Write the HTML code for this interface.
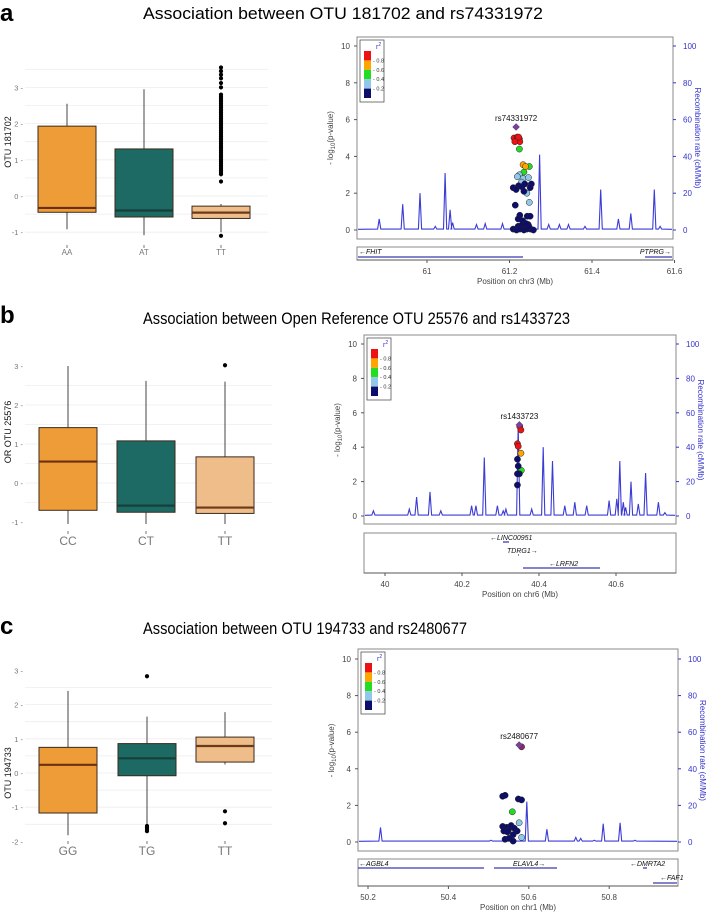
<!DOCTYPE html>
<html><head><meta charset="utf-8"><style>
html,body{margin:0;padding:0;background:#fff;}
svg{display:block;font-family:"Liberation Sans",sans-serif;}
</style></head><body>
<svg id="fig" width="709" height="913" viewBox="0 0 709 913" xmlns="http://www.w3.org/2000/svg">
<text x="0" y="21" font-size="24" font-weight="bold">a</text>
<text x="143" y="19" font-size="17" textLength="400" lengthAdjust="spacingAndGlyphs">Association between OTU 181702 and rs74331972</text>
<text x="0" y="323" font-size="24" font-weight="bold">b</text>
<text x="143" y="324" font-size="17" textLength="427" lengthAdjust="spacingAndGlyphs">Association between Open Reference OTU 25576 and rs1433723</text>
<text x="0" y="634" font-size="24" font-weight="bold">c</text>
<text x="143" y="634" font-size="17" textLength="324" lengthAdjust="spacingAndGlyphs">Association between OTU 194733 and rs2480677</text>
</svg>
<script>
// ---------- Box plot data ----------
const boxCatsA = ["AA","AT","TT"];
const boxStatsA = [[-0.92,-0.45,-0.33,1.93,2.55],[-1.08,-0.58,-0.40,1.30,2.95],[-1.0,-0.62,-0.46,-0.28,-0.22]];
const boxOutA = [[],[],[-1.1,0.4,0.6,0.65,0.7,0.75,0.8,0.85,0.9,0.95,1.0,1.05,1.1,1.15,1.2,1.25,1.3,1.35,1.4,1.45,1.5,1.55,1.6,1.65,1.7,1.75,1.8,1.85,1.9,1.95,2.0,2.05,2.1,2.15,2.2,2.25,2.3,2.35,2.4,2.45,2.5,2.55,2.6,2.65,2.7,2.75,2.8,3.0,3.12,3.25,3.35,3.45,3.55]];
const boxTicksA = [-1,0,1,2,3];
const boxCatsB = ["CC","CT","TT"];
const boxStatsB = [[-1.05,-0.70,0.55,1.42,3.0],[-1.05,-0.75,-0.58,1.08,2.62],[-1.05,-0.78,-0.63,0.67,2.6]];
const boxOutB = [[],[],[3.02]];
const boxTicksB = [-1,0,1,2,3];
const boxCatsC = ["GG","TG","TT"];
const boxStatsC = [[-1.82,-1.17,0.24,0.75,2.4],[-1.55,-0.08,0.43,0.86,1.65],[0.25,0.32,0.79,1.05,1.78]];
const boxOutC = [[],[2.83,-1.55,-1.6,-1.65,-1.7],[-1.12,-1.47]];
const boxTicksC = [-2,-1,0,1,2,3];

// ---------- Locus data ----------
const recPosA = [60.884,60.941,60.983,61.02,61.044,61.056,61.062,61.12,61.141,61.183,61.273,61.295,61.321,61.343,61.383,61.421,61.464,61.494,61.551,61.565];
const recRateA = [6,14,20,2,31,11,4,3,3.5,3.5,41,3,3,3,2,22,6,9,22,2];
const snpPosA = [61.211,61.217,61.224,61.219,61.225,61.213,61.222,61.224,61.235,61.248,61.233,61.239,61.224,61.233,61.246,61.229,61.242,61.248,61.219,61.209,61.222,61.230,61.237,61.253,61.250,61.235,61.216,61.214,61.225,61.243,61.250,61.232,61.221,61.229,61.238,61.245,61.209,61.217,61.225,61.235,61.242,61.251,61.258,61.247,61.221,61.240];
const snpLogPA = [5.0,4.85,4.95,5.05,4.8,4.8,5.05,4.4,3.15,3.45,3.55,3.45,3.0,2.8,2.85,2.6,2.0,1.5,2.9,2.3,2.4,2.35,2.5,2.5,2.3,2.1,2.2,1.35,0.8,0.75,0.75,0.5,0.2,0.25,0.15,0.3,0.05,0.0,0.05,0.0,0.05,0.05,0.0,0.2,0.6,0.35];
const snpR2A = [4,4,4,4,4,4,4,2,2,2,3,3,1,1,1,1,1,1,1,0,0,0,0,0,0,0,0,0,0,0,0,0,0,0,0,0,0,0,0,0,0,0,0,0,0,0];
const leadA = {name:"rs74331972", pos:61.216, logp:5.6};

const recPosB = [39.970,40.063,40.082,40.117,40.145,40.225,40.236,40.258,40.292,40.307,40.314,40.346,40.381,40.411,40.435,40.467,40.493,40.524,40.582,40.602,40.610,40.619,40.625,40.639,40.658,40.677,40.710,40.727];
const recRateB = [3,4,11,14,3,6,6,34,6,3,4,53,4,40,32,6,8,6,9,10,32,8,5,20,7,25,8,2];
const snpPosB = [40.350,40.353,40.344,40.346,40.353,40.352,40.354,40.344,40.346,40.349,40.344,40.344];
const snpLogPB = [5.2,5.0,4.2,4.05,3.65,2.6,2.65,3.3,2.9,2.45,2.45,1.8];
const snpR2B = [4,4,4,4,3,2,2,0,0,0,0,0];
const leadB = {name:"rs1433723", pos:40.349, logp:5.3};

const recPosC = [50.231,50.506,50.595,50.645,50.717,50.729,50.763,50.785,50.827,50.864];
const recRateC = [8,1,22,7,2.5,2,1,10,10.5,1];
const snpPosC = [50.582,50.535,50.541,50.574,50.582,50.535,50.545,50.556,50.571,50.538,50.549,50.561,50.541,50.551,50.561,50.547,50.564,50.559,50.576,50.582];
const snpLogPC = [5.2,2.5,2.55,2.35,2.3,0.85,0.8,0.9,0.6,0.6,0.65,0.4,0.15,0.2,0.05,0.55,0.75,1.65,1.05,0.25];
const snpR2C = [5,0,0,0,0,0,0,0,0,0,0,0,0,0,0,0,0,2,1,1];
const leadC = {name:"rs2480677", pos:50.576, logp:5.3};

const NS="http://www.w3.org/2000/svg";
const svg=document.getElementById("fig");
function mk(tag,attrs,parent){const e=document.createElementNS(NS,tag);for(const k in attrs)e.setAttribute(k,attrs[k]);(parent||svg).appendChild(e);return e;}

const fills=["#EE9C38","#1C6A63","#EFBD8A"];
const meds=["#6b3010","#173f3a","#6b3a18"];

function boxPlot(cfg,cats,stats,outs,ticks){
  const g=mk("g",{});
  
  
  const Y=v=>cfg.y0-v*cfg.ppu;
  for(let v=cfg.gmin;v<=cfg.gmax+1e-9;v+=0.5){
    const l=mk("line",{x1:cfg.left,x2:cfg.right,y1:Y(v),y2:Y(v),stroke:"#eeeeee","stroke-width":0.8},g);
    
    
  }
  ticks.forEach(t=>{
    const tx=mk("text",{x:23,y:Y(t)+3,"font-size":7.5,fill:"#777","text-anchor":"end"},g);
    tx.textContent=t+" -";
    
    
  });
  const yl=mk("text",{transform:`translate(${cfg.ylx},${cfg.ylc}) rotate(-90)`,"font-size":9,"text-anchor":"middle",fill:"#111"},g);
  yl.textContent=cfg.ylabel;
  
  
  cats.forEach((c,i)=>{
    const cx=cfg.centers[i],s=stats[i],hw=29;
    const w=mk("line",{x1:cx,x2:cx,y1:Y(s[0]),y2:Y(s[4]),stroke:"#444","stroke-width":1},g);
    
    
    const r=mk("rect",{x:cx-hw,y:Y(s[3]),width:hw*2,height:Y(s[1])-Y(s[3]),fill:fills[i],stroke:"#3a2a1a","stroke-width":1},g);
    
    
    const m=mk("line",{x1:cx-hw,x2:cx+hw,y1:Y(s[2]),y2:Y(s[2]),stroke:meds[i],"stroke-width":2.2},g);
    
    
    outs[i].forEach(v=>{
      const d=mk("circle",{cx:cx,cy:Y(v),r:2.1,fill:"#000"},g);
      
      
    });
    const tk=mk("line",{x1:cx,x2:cx,y1:cfg.catY-cfg.cfs-2,y2:cfg.catY-cfg.cfs+1,stroke:"#777"},g);
    
    
    const lb=mk("text",{x:cx,y:cfg.catY,"font-size":cfg.cfs,fill:"#777","text-anchor":"middle"},g);
    lb.textContent=c;
    
    
  });
}

boxPlot({name:"boxplot-a",y0:196,ppu:36.2,left:25,right:268,gmin:-1,gmax:3.5,ylx:11,ylc:142,ylabel:"OTU 181702",centers:[67,144,221],catY:255,cfs:8},boxCatsA,boxStatsA,boxOutA,boxTicksA);
boxPlot({name:"boxplot-b",y0:483,ppu:39,left:25,right:272,gmin:-0.5,gmax:2.5,ylx:11,ylc:432,ylabel:"OR OTU 25576",centers:[68,146,225],catY:545,cfs:12},boxCatsB,boxStatsB,boxOutB,boxTicksB);
boxPlot({name:"boxplot-c",y0:773,ppu:34.2,left:25,right:272,gmin:-1.5,gmax:2.5,ylx:11,ylc:773,ylabel:"OTU 194733",centers:[68,147,225],catY:855,cfs:12},boxCatsC,boxStatsC,boxOutC,boxTicksC);

const r2col=["#0d0d6b","#8fc8e8","#22dd22","#ffa500","#ee1111","#8a2a6a"];

function locus(cfg,recPos,recRate,snpPos,snpLogP,snpR2,lead){
  const g=mk("g",{});
  
  
  const X=p=>cfg.x0+(p-cfg.m0)*cfg.ppm;
  const Y=v=>cfg.y0-v*cfg.ppu;
  const YR=v=>cfg.y0-v/10*cfg.ppu;
  const fr=mk("rect",{x:cfg.left,y:cfg.top,width:cfg.right-cfg.left,height:cfg.bottom-cfg.top,fill:"none",stroke:"#888","stroke-width":1},g);
  
  
  [0,2,4,6,8,10].forEach(t=>{
    const a=mk("line",{x1:cfg.left-3,x2:cfg.left,y1:Y(t),y2:Y(t),stroke:"#555"},g);
    
    
    const tx=mk("text",{x:cfg.left-7,y:Y(t)+3,"font-size":8,fill:"#444","text-anchor":"end"},g);
    tx.textContent=t;
    
    
    const b=mk("line",{x1:cfg.right,x2:cfg.right+3,y1:Y(t),y2:Y(t),stroke:"#3333cc"},g);
    
    
    const tr=mk("text",{x:cfg.right+10,y:Y(t)+3,"font-size":8,fill:"#3333cc"},g);
    tr.textContent=t*10;
    
    
  });
  const cy=(Y(0)+Y(10))/2;
  const yl=mk("text",{transform:`translate(${cfg.left-24},${cy}) rotate(-90)`,"font-size":8,fill:"#444","text-anchor":"middle"},g);
  yl.innerHTML='- log<tspan font-size="6" dy="2">10</tspan><tspan dy="-2">(p-value)</tspan>';
  
  
  const yr=mk("text",{transform:`translate(${cfg.right+22},${cy}) rotate(90)`,"font-size":8,fill:"#3333cc","text-anchor":"middle"},g);
  yr.textContent="Recombination rate (cM/Mb)";
  
  
  let pts=[[cfg.left+1,YR(0.4)]];
  recPos.forEach((p,i)=>{const x=X(p);pts.push([x-1.6,YR(0.5)],[x,YR(recRate[i])],[x+1.6,YR(0.5)]);});
  pts.push([cfg.right-1,YR(0.4)]);
  const rl=mk("polyline",{points:pts.map(q=>q[0].toFixed(1)+","+q[1].toFixed(1)).join(" "),fill:"none",stroke:"#3b3bd6","stroke-width":1.1},g);
  
  
  snpPos.forEach((p,i)=>{
    const c=mk("circle",{cx:X(p),cy:Y(snpLogP[i]),r:3.1,fill:r2col[snpR2[i]],stroke:"#222","stroke-width":0.5},g);
    
    
  });
  const lx=X(lead.pos),ly=Y(lead.logp);
  const dm=mk("polygon",{points:`${lx},${ly-3.5} ${lx+3.5},${ly} ${lx},${ly+3.5} ${lx-3.5},${ly}`,fill:"#7b3fa0",stroke:"#333","stroke-width":0.4},g);
  
  
  const lt=mk("text",{x:lx,y:ly-6,"font-size":8,fill:"#111","text-anchor":"middle"},g);
  lt.textContent=lead.name;
  
  
  const lg=mk("g",{},g);
  
  
  const bx=cfg.left+3,by=cfg.top+3;
  mk("rect",{x:bx,y:by,width:24,height:62,fill:"#fff",stroke:"#555","stroke-width":0.8},lg);
  const rt=mk("text",{x:bx+16,y:by+9,"font-size":7,fill:"#3333cc"},lg);
  rt.innerHTML='r<tspan font-size="5" dy="-3">2</tspan>';
  const segH=9.4;
  [4,3,2,1,0].forEach((k,j)=>{
    const s=mk("rect",{x:bx+4,y:by+11+j*segH,width:7,height:segH,fill:r2col[k]},lg);
    
    
  });
  ["0.8","0.6","0.4","0.2"].forEach((t,j)=>{
    const tx=mk("text",{x:bx+13,y:by+11+(j+1)*segH+2,"font-size":5.5,fill:"#333"},lg);
    tx.textContent="- "+t;
    
    
  });
  const gp=mk("rect",{x:cfg.left,y:cfg.gTop,width:cfg.right-cfg.left,height:cfg.gBot-cfg.gTop,fill:"none",stroke:"#888"},g);
  
  
  cfg.genes.forEach(gn=>{
    if(gn.x2>gn.x1){
      const l=mk("line",{x1:gn.x1,x2:gn.x2,y1:gn.ly,y2:gn.ly,stroke:"#3b3bb0","stroke-width":1.3},g);
      
      
    }
    const t=mk("text",{x:gn.tx,y:gn.ty,"font-size":7,"font-style":"italic",fill:"#111","text-anchor":gn.anchor||"start"},g);
    t.textContent=gn.label;
    
    
  });
  const ax=mk("line",{x1:cfg.left,x2:cfg.right,y1:cfg.gBot,y2:cfg.gBot,stroke:"#555"},g);
  
  
  cfg.xticks.forEach(t=>{
    const tk=mk("line",{x1:X(t),x2:X(t),y1:cfg.gBot,y2:cfg.gBot+3,stroke:"#555"},g);
    
    
    const tx=mk("text",{x:X(t),y:cfg.gBot+14,"font-size":8,fill:"#444","text-anchor":"middle"},g);
    tx.textContent=t;
    
    
  });
  const xl=mk("text",{x:(cfg.left+cfg.right)/2,y:cfg.gBot+24,"font-size":8,fill:"#444","text-anchor":"middle"},g);
  xl.textContent=cfg.xlabel;
  
  
}

locus({name:"locus-plot-a",left:357,right:673,top:37,bottom:239,y0:230,ppu:18.4,x0:427,m0:61,ppm:412.5,gTop:247,gBot:260,
  xticks:[61,61.2,61.4,61.6],xlabel:"Position on chr3 (Mb)",
  genes:[{label:"\u2190FHIT",x1:358,x2:523,ly:257,tx:359,ty:254},{label:"PTPRG\u2192",x1:645,x2:672,ly:257,tx:671,ty:254,anchor:"end"}]},
  recPosA,recRateA,snpPosA,snpLogPA,snpR2A,leadA);

locus({name:"locus-plot-b",left:364,right:676,top:335,bottom:524,y0:516,ppu:17.2,x0:385,m0:40,ppm:385,gTop:533,gBot:573,
  xticks:[40,40.2,40.4,40.6],xlabel:"Position on chr6 (Mb)",
  genes:[{label:"\u2190LINC00951",x1:503,x2:509,ly:542,tx:490,ty:540},{label:"TDRG1\u2192",x1:518,x2:519,ly:555,tx:507,ty:553},{label:"\u2190LRFN2",x1:523,x2:600,ly:568,tx:549,ty:566}]},
  recPosB,recRateB,snpPosB,snpLogPB,snpR2B,leadB);

locus({name:"locus-plot-c",left:358,right:678,top:649,bottom:851,y0:842,ppu:18.3,x0:368,m0:50.2,ppm:402,gTop:859,gBot:886,
  xticks:[50.2,50.4,50.6,50.8],xlabel:"Position on chr1 (Mb)",
  genes:[{label:"\u2190AGBL4",x1:358,x2:484,ly:868,tx:359,ty:866},{label:"ELAVL4\u2192",x1:494,x2:557,ly:868,tx:513,ty:866},{label:"\u2190DMRTA2",x1:643,x2:647,ly:868,tx:630,ty:866},{label:"\u2190FAF1",x1:653,x2:677,ly:883,tx:660,ty:880}]},
  recPosC,recRateC,snpPosC,snpLogPC,snpR2C,leadC);
</script>
</body></html>
